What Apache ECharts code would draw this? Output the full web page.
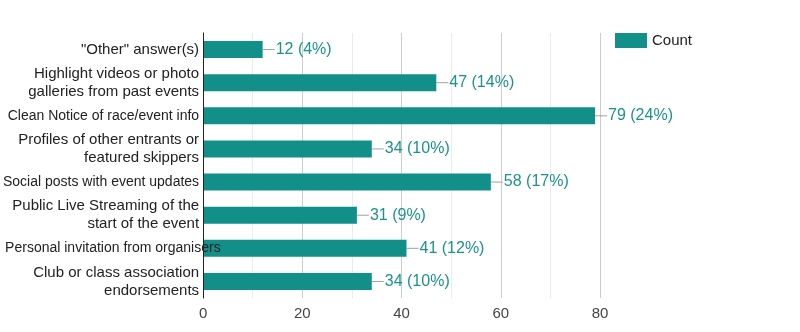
<!DOCTYPE html>
<html>
<head>
<meta charset="utf-8">
<script src="https://cdn.jsdelivr.net/npm/echarts@6/dist/echarts.min.js"></script>
<style>
  html, body { margin: 0; padding: 0; background: #fff; }
  #chart { width: 800px; height: 332px; }
</style>
</head>
<body>
<div id="chart"></div>
<script>
// Survey answers (top to bottom) and how many respondents picked each
const categories = [
  '"Other" answer(s)',
  'Highlight videos or photo\ngalleries from past events',
  'Clean Notice of race/event info',
  'Profiles of other entrants or\nfeatured skippers',
  'Social posts with event updates',
  'Public Live Streaming of the\nstart of the event',
  'Personal invitation from organisers',
  'Club or class association\nendorsements'
];
const counts = [12, 47, 79, 34, 58, 31, 41, 34];
const xTicks = [0, 20, 40, 60, 80];
const seriesName = 'Count';

const total = counts.reduce((a, b) => a + b, 0);
const barColor = '#138f89';
const labelColor = '#1a938d';
const font = 'Liberation Sans, Arial, sans-serif';

const chart = echarts.init(document.getElementById('chart'), null, { renderer: 'canvas' });

chart.setOption({
  animation: false,
  textStyle: { fontFamily: font },
  legend: {
    data: [seriesName],
    icon: 'rect',
    left: 615,
    top: 33,
    padding: 0,
    itemWidth: 32,
    itemHeight: 15,
    itemGap: 6,
    textStyle: { fontSize: 15, color: '#222', fontFamily: font }
  },
  grid: { left: 201, right: 200, top: 33, bottom: 34, containLabel: false },
  xAxis: {
    type: 'value',
    min: xTicks[0],
    max: xTicks[xTicks.length - 1],
    interval: xTicks[1] - xTicks[0],
    axisLine: { show: false },
    axisTick: { show: false },
    axisLabel: { fontSize: 15, color: '#444', margin: 8, fontFamily: font },
    splitLine: { show: true, lineStyle: { color: '#cccccc', width: 1 } },
    minorTick: { show: false, splitNumber: 2 },
    minorSplitLine: { show: true, lineStyle: { color: '#ebebeb', width: 1 } }
  },
  yAxis: {
    type: 'category',
    inverse: true,
    z: 5,
    data: categories,
    axisLine: { show: true, lineStyle: { color: '#222', width: 1 } },
    axisTick: { show: false },
    splitLine: { show: false },
    axisLabel: {
      margin: 4,
      fontSize: 15,
      color: '#222',
      lineHeight: 18,
      fontFamily: font,
      formatter: function (v) {
        // long single-line answers use a smaller size; the longest one
        // starts at the chart's left edge and runs over the axis
        if (v.indexOf('\n') < 0 && v.length > 32) return '{w|' + v + '}';
        if (v.indexOf('\n') < 0 && v.length > 28) return '{s|' + v + '}';
        return v;
      },
      rich: {
        w: { width: 194, align: 'left', fontSize: 14, color: '#222', fontFamily: font },
        s: { fontSize: 14, color: '#222', fontFamily: font }
      }
    }
  },
  series: [{
    name: seriesName,
    type: 'bar',
    z: 2,
    data: counts,
    barWidth: 17,
    itemStyle: { color: barColor },
    label: {
      show: true,
      position: 'right',
      distance: 0,
      formatter: function (p) {
        const pct = Math.round(p.value / total * 100);
        return '{l|}{v|' + p.value + ' (' + pct + '%)}';
      },
      rich: {
        l: { width: 12, height: 1, backgroundColor: '#a0a0a0', verticalAlign: 'middle' },
        v: { fontSize: 16, color: labelColor, fontFamily: font, padding: [0, 0, 0, 1], verticalAlign: 'middle' }
      }
    }
  }]
});
</script>
</body>
</html>
